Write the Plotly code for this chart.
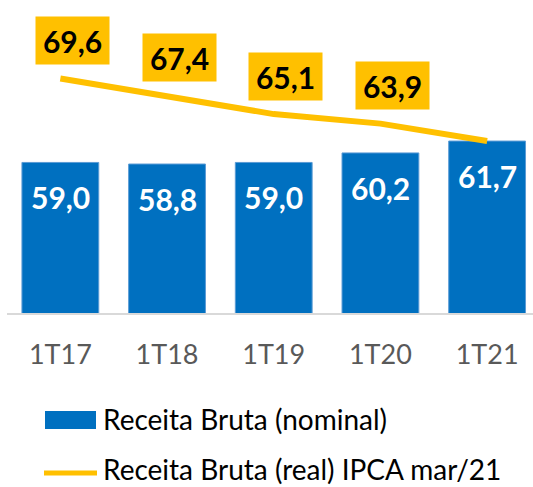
import plotly.graph_objects as go

quarters = ["1T17", "1T18", "1T19", "1T20", "1T21"]
nominal = [59.0, 58.8, 59.0, 60.2, 61.7]
real_ipca = [69.6, 67.4, 65.1, 63.9, 61.7]

BLUE = "#0070C0"
GOLD = "#FFC000"
FONT = "Lato, 'Open Sans', sans-serif"

W, H = 533, 487
ML, MB = 7, 174
PLOT_W, PLOT_H = W - ML, H - MB


def fmt(v):
    return f"{v:.1f}".replace(".", ",")


fig = go.Figure()
fig.add_trace(go.Bar(
    x=quarters, y=nominal, width=0.72,
    marker=dict(color=BLUE, line=dict(color="#5B9BD5", width=1)),
    name="Receita Bruta (nominal)", hoverinfo="skip",
))
fig.add_trace(go.Scatter(
    x=quarters, y=real_ipca, mode="lines",
    line=dict(color=GOLD, width=6),
    name="Receita Bruta (real) IPCA mar/21", hoverinfo="skip",
))

annotations = []
# labels inside bars
for q, v in zip(quarters, nominal):
    annotations.append(dict(
        x=q, y=v, xref="x", yref="y", text=f"<b>{fmt(v)}</b>",
        showarrow=False, yshift=-35,
        font=dict(family=FONT, size=30, color="white"),
    ))
# yellow boxes above the line (last point has no box)
for q, v in zip(quarters[:-1], real_ipca[:-1]):
    annotations.append(dict(
        x=q, y=v, xref="x", yref="y", text=f"<b>{fmt(v)}</b>",
        showarrow=False, xshift=12, yshift=38,
        width=73, height=47, borderpad=0, bgcolor=GOLD,
        font=dict(family=FONT, size=30, color="black"),
    ))


def px_x(p):
    return (p - ML) / PLOT_W


def px_y(p):
    return (PLOT_H - p) / PLOT_H


# hand-made legend
shapes = [
    dict(type="rect", xref="paper", yref="paper",
         x0=px_x(45), x1=px_x(96), y0=px_y(429), y1=px_y(411),
         fillcolor=BLUE, line=dict(width=0)),
    dict(type="line", xref="paper", yref="paper",
         x0=px_x(44), x1=px_x(97), y0=px_y(473), y1=px_y(473),
         line=dict(color=GOLD, width=5)),
]
for txt, ypx in [("Receita Bruta (nominal)", 419), ("Receita Bruta (real) IPCA mar/21", 469)]:
    annotations.append(dict(
        x=px_x(101), y=px_y(ypx), xref="paper", yref="paper", text=txt,
        showarrow=False, xanchor="left", yanchor="middle",
        font=dict(family=FONT, size=28, color="black"),
    ))

fig.update_layout(
    width=W, height=H,
    margin=dict(l=ML, r=0, t=0, b=MB),
    paper_bgcolor="white", plot_bgcolor="white",
    showlegend=False,
    annotations=annotations, shapes=shapes,
    font=dict(family=FONT),
)
fig.update_xaxes(
    range=[-0.5, 4.43], showgrid=False,
    showline=True, linecolor="#D9D9D9", linewidth=2,
    ticks="", ticklabelstandoff=17,
    tickfont=dict(family=FONT, size=27, color="#595959"),
)
fig.update_yaxes(range=[40, 79.5], visible=False, showgrid=False)

fig.write_html("out.html", config={"displayModeBar": False},
               post_script="document.body.style.margin='0';")
